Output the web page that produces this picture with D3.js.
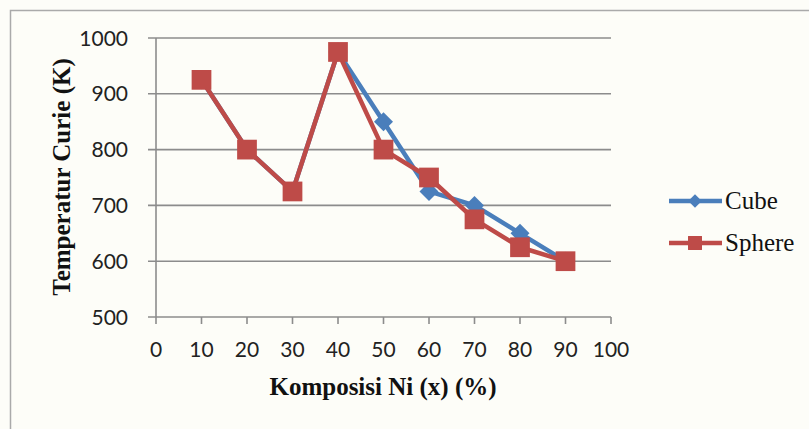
<!DOCTYPE html>
<html>
<head>
<meta charset="utf-8">
<script src="https://cdn.jsdelivr.net/npm/d3@7"></script>
<style>
  body { margin: 0; background: #fdfdf8; }
  svg { display: block; }
  .tick-label { font-family: Lato, "Open Sans", sans-serif; font-size: 21px; fill: #222; }
  .axis-title { font-family: "Liberation Serif", "Times New Roman", serif; font-size: 25px; font-weight: bold; fill: #111; }
  .legend-text { font-family: "Liberation Serif", "Times New Roman", serif; font-size: 25px; fill: #111; }
</style>
</head>
<body>
<div id="chart"></div>
<script>
// Dades del gràfic
const composition = [10, 20, 30, 40, 50, 60, 70, 80, 90];
const cubeValues = [925, 800, 725, 975, 850, 725, 700, 650, 600];
const sphereValues = [925, 800, 725, 975, 800, 750, 675, 625, 600];
const xTicks = [0, 10, 20, 30, 40, 50, 60, 70, 80, 90, 100];
const yTicks = [500, 600, 700, 800, 900, 1000];

const width = 809, height = 429;
const plot = { left: 156, right: 611, top: 38, bottom: 317 };

const svg = d3.select("#chart").append("svg")
    .attr("width", width)
    .attr("height", height);

// Marc exterior
svg.append("rect")
    .attr("x", 10.5).attr("y", 10.5)
    .attr("width", width).attr("height", height)
    .attr("fill", "#fdfdf8")
    .attr("stroke", "#aaa")
    .attr("stroke-width", 1.5);

const x = d3.scaleLinear().domain([0, 100]).range([plot.left, plot.right]);
const y = d3.scaleLinear().domain([500, 1000]).range([plot.bottom, plot.top]);

// Línies de la graella (també fan de marques de l'eix Y)
svg.append("g")
    .selectAll("line")
    .data(yTicks)
    .join("line")
    .attr("x1", plot.left - 8)
    .attr("x2", plot.right)
    .attr("y1", d => y(d))
    .attr("y2", d => y(d))
    .attr("stroke", "#8c8c8c")
    .attr("stroke-width", 1.6);

// Eix Y
svg.append("line")
    .attr("x1", plot.left).attr("x2", plot.left)
    .attr("y1", plot.top).attr("y2", plot.bottom)
    .attr("stroke", "#8c8c8c").attr("stroke-width", 1.6);

// Marques de l'eix X
svg.append("g")
    .selectAll("line")
    .data(xTicks)
    .join("line")
    .attr("x1", d => x(d)).attr("x2", d => x(d))
    .attr("y1", plot.bottom).attr("y2", plot.bottom + 7)
    .attr("stroke", "#8c8c8c").attr("stroke-width", 1.6);

// Etiquetes dels eixos
svg.append("g")
    .selectAll("text")
    .data(yTicks)
    .join("text")
    .attr("class", "tick-label")
    .attr("x", 128)
    .attr("y", d => y(d))
    .attr("dy", "0.36em")
    .attr("text-anchor", "end")
    .text(d => d);

svg.append("g")
    .selectAll("text")
    .data(xTicks)
    .join("text")
    .attr("class", "tick-label")
    .attr("x", d => x(d))
    .attr("y", 357)
    .attr("text-anchor", "middle")
    .text(d => d);

svg.append("text")
    .attr("class", "axis-title")
    .attr("x", 383)
    .attr("y", 395)
    .attr("text-anchor", "middle")
    .text("Komposisi Ni (x) (%)");

svg.append("text")
    .attr("class", "axis-title")
    .attr("transform", "translate(70,177) rotate(-90)")
    .attr("text-anchor", "middle")
    .text("Temperatur Curie (K)");

// Sèries
const series = [
    { name: "Cube", values: cubeValues, color: "#4a7ebb", marker: d3.symbolDiamond2, size: 230 },
    { name: "Sphere", values: sphereValues, color: "#be4b48", marker: d3.symbolSquare, size: 390 }
];

const line = d3.line()
    .x((d, i) => x(composition[i]))
    .y(d => y(d));

series.forEach(s => {
    svg.append("path")
        .datum(s.values)
        .attr("d", line)
        .attr("fill", "none")
        .attr("stroke", s.color)
        .attr("stroke-width", 4.5)
        .attr("stroke-linejoin", "round");
    svg.append("g")
        .selectAll("path")
        .data(s.values)
        .join("path")
        .attr("transform", (d, i) => `translate(${x(composition[i])},${y(d)})`)
        .attr("d", d3.symbol().type(s.marker).size(s.size))
        .attr("fill", s.color);
});

// Llegenda
const legend = svg.append("g");
series.forEach((s, i) => {
    const ly = 201 + i * 42;
    legend.append("line")
        .attr("x1", 669).attr("x2", 722)
        .attr("y1", ly).attr("y2", ly)
        .attr("stroke", s.color).attr("stroke-width", 4.5);
    legend.append("path")
        .attr("transform", `translate(695,${ly})`)
        .attr("d", d3.symbol().type(s.marker).size(s.size * 0.5))
        .attr("fill", s.color);
    legend.append("text")
        .attr("class", "legend-text")
        .attr("x", 725)
        .attr("y", ly)
        .attr("dy", "0.33em")
        .text(s.name);
});
</script>
</body>
</html>
